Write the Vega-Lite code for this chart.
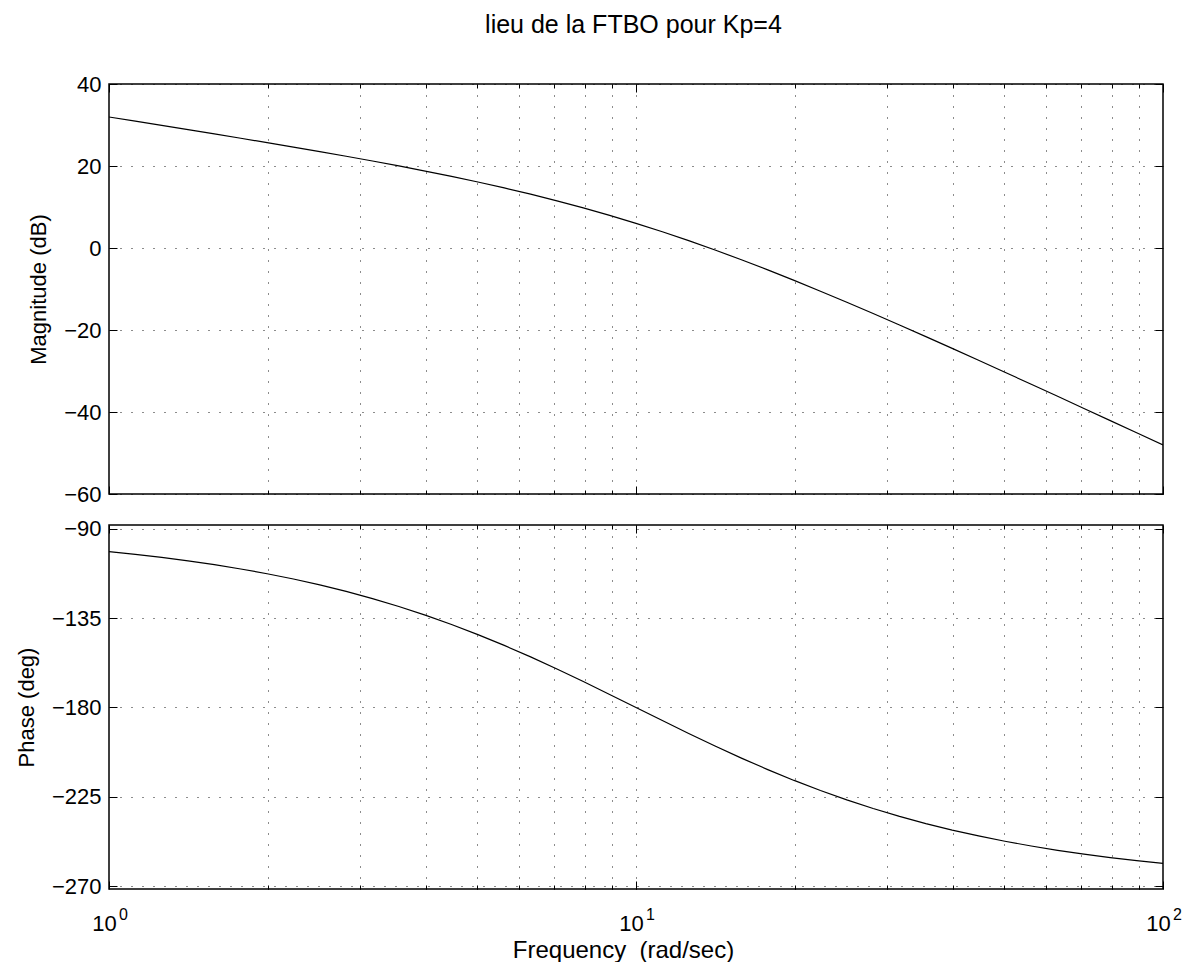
{
  "$schema": "https://vega.github.io/schema/vega-lite/v6.json",
  "background": "white",
  "padding": {"left": 14, "top": 13, "right": 5, "bottom": 5},
  "title": {"text": "lieu de la FTBO pour Kp=4", "font": "Liberation Sans", "fontSize": 25, "fontWeight": "normal", "color": "black", "offset": 34, "anchor": "middle", "dx": 35},
  "datasets": {
    "bode": [
      {"w": 1.0, "mag": 31.955, "phase": -101.42},
      {"w": 1.122, "mag": 30.933, "phase": -102.8},
      {"w": 1.2589, "mag": 29.905, "phase": -104.35},
      {"w": 1.4125, "mag": 28.87, "phase": -106.08},
      {"w": 1.5849, "mag": 27.826, "phase": -108.01},
      {"w": 1.7783, "mag": 26.771, "phase": -110.17},
      {"w": 1.9953, "mag": 25.702, "phase": -112.57},
      {"w": 2.2387, "mag": 24.616, "phase": -115.24},
      {"w": 2.5119, "mag": 23.51, "phase": -118.2},
      {"w": 2.8184, "mag": 22.377, "phase": -121.48},
      {"w": 3.1623, "mag": 21.213, "phase": -125.1},
      {"w": 3.5481, "mag": 20.011, "phase": -129.07},
      {"w": 3.9811, "mag": 18.763, "phase": -133.41},
      {"w": 4.4668, "mag": 17.461, "phase": -138.14},
      {"w": 5.0119, "mag": 16.095, "phase": -143.24},
      {"w": 5.6234, "mag": 14.655, "phase": -148.7},
      {"w": 6.3096, "mag": 13.131, "phase": -154.49},
      {"w": 7.0795, "mag": 11.512, "phase": -160.59},
      {"w": 7.9433, "mag": 9.792, "phase": -166.92},
      {"w": 8.9125, "mag": 7.963, "phase": -173.41},
      {"w": 10.0, "mag": 6.021, "phase": -180.0},
      {"w": 11.22, "mag": 3.963, "phase": -186.59},
      {"w": 12.589, "mag": 1.792, "phase": -193.08},
      {"w": 14.125, "mag": -0.488, "phase": -199.41},
      {"w": 15.849, "mag": -2.869, "phase": -205.51},
      {"w": 17.783, "mag": -5.346, "phase": -211.3},
      {"w": 19.953, "mag": -7.906, "phase": -216.77},
      {"w": 22.387, "mag": -10.539, "phase": -221.86},
      {"w": 25.119, "mag": -13.237, "phase": -226.59},
      {"w": 28.184, "mag": -15.989, "phase": -230.93},
      {"w": 31.623, "mag": -18.787, "phase": -234.9},
      {"w": 35.481, "mag": -21.623, "phase": -238.52},
      {"w": 39.811, "mag": -24.49, "phase": -241.8},
      {"w": 44.668, "mag": -27.384, "phase": -244.76},
      {"w": 50.119, "mag": -30.298, "phase": -247.43},
      {"w": 56.234, "mag": -33.23, "phase": -249.83},
      {"w": 63.096, "mag": -36.175, "phase": -251.99},
      {"w": 70.795, "mag": -39.131, "phase": -253.92},
      {"w": 79.433, "mag": -42.095, "phase": -255.65},
      {"w": 89.125, "mag": -45.067, "phase": -257.2},
      {"w": 100.0, "mag": -48.045, "phase": -258.58}
    ]
  },
  "config": {
    "font": "Liberation Sans",
    "view": {"stroke": "black", "strokeWidth": 1.5},
    "axis": {
      "domain": false, "tickColor": "black", "labelColor": "black", "titleColor": "black",
      "labelFont": "Liberation Sans", "titleFont": "Liberation Sans",
      "labelFontSize": 22, "titleFontSize": 22, "titleFontWeight": "normal",
      "gridColor": "black", "gridDash": [1, 10], "gridOpacity": 0.9, "gridWidth": 1,
      "labelFlush": false, "labelOverlap": false, "tickWidth": 1, "minExtent": 0
    }
  },
  "spacing": 11,
  "vconcat": [
    {
      "width": 1054, "height": 410,
      "data": {"name": "bode"},
      "layer": [
        {
          "mark": {"type": "line", "color": "black", "strokeWidth": 1.2, "clip": true},
          "encoding": {
            "x": {"field": "w", "type": "quantitative", "scale": {"type": "log", "domain": [1, 100], "nice": false},
                  "axis": {"orient": "bottom", "values": [1, 10, 100], "tickSize": -8, "labels": false, "grid": false, "title": null}},
            "y": {"field": "mag", "type": "quantitative", "scale": {"domain": [-60, 40], "nice": false, "zero": false},
                  "axis": {"orient": "left", "values": [-60, -40, -20, 0, 20, 40], "ticks": false, "labelPadding": 8, "grid": true, "title": "Magnitude (dB)", "titlePadding": 13}}
          }
        },
        {
          "mark": {"type": "line", "color": "black", "strokeOpacity": 0},
          "encoding": {
            "x": {"field": "w", "type": "quantitative", "scale": {"type": "log", "domain": [1, 100], "nice": false},
                  "axis": {"orient": "bottom", "values": [2, 3, 4, 5, 6, 7, 8, 9, 10, 20, 30, 40, 50, 60, 70, 80, 90], "tickSize": -4, "labels": false, "grid": true, "title": null}},
            "y": {"field": "mag", "type": "quantitative", "scale": {"domain": [-60, 40], "nice": false, "zero": false},
                  "axis": {"orient": "right", "values": [-60, -40, -20, 0, 20, 40], "tickSize": -8, "labels": false, "grid": false, "title": null}}
          }
        },
        {
          "mark": {"type": "line", "color": "black", "strokeOpacity": 0},
          "encoding": {
            "x": {"field": "w", "type": "quantitative", "scale": {"type": "log", "domain": [1, 100], "nice": false},
                  "axis": {"orient": "top", "values": [1, 10, 100], "tickSize": -8, "labels": false, "grid": false, "title": null}},
            "y": {"field": "mag", "type": "quantitative", "scale": {"domain": [-60, 40], "nice": false, "zero": false},
                  "axis": {"orient": "left", "values": [-60, -40, -20, 0, 20, 40], "tickSize": -8, "labels": false, "grid": false, "title": null}}
          }
        },
        {
          "mark": {"type": "line", "color": "black", "strokeOpacity": 0},
          "encoding": {
            "x": {"field": "w", "type": "quantitative", "scale": {"type": "log", "domain": [1, 100], "nice": false},
                  "axis": {"orient": "top", "values": [2, 3, 4, 5, 6, 7, 8, 9, 20, 30, 40, 50, 60, 70, 80, 90], "tickSize": -4, "labels": false, "grid": false, "title": null}},
            "y": {"field": "mag", "type": "quantitative", "scale": {"domain": [-60, 40], "nice": false, "zero": false}, "axis": null}
          }
        }
      ],
      "resolve": {"axis": {"x": "independent", "y": "independent"}}
    },
    {
      "width": 1054, "height": 364,
      "data": {"name": "bode"},
      "layer": [
        {
          "mark": {"type": "line", "color": "black", "strokeWidth": 1.2, "clip": true},
          "encoding": {
            "x": {"field": "w", "type": "quantitative", "scale": {"type": "log", "domain": [1, 100], "nice": false},
                  "axis": {"orient": "bottom", "values": [1, 10, 100], "tickSize": -8, "labels": false, "grid": false, "title": null}},
            "y": {"field": "phase", "type": "quantitative", "scale": {"domain": [-271.5, -88], "nice": false, "zero": false},
                  "axis": {"orient": "left", "values": [-270, -225, -180, -135, -90], "ticks": false, "labelPadding": 8, "grid": true, "title": "Phase (deg)", "titlePadding": 13}}
          }
        },
        {
          "mark": {"type": "line", "color": "black", "strokeOpacity": 0},
          "encoding": {
            "x": {"field": "w", "type": "quantitative", "scale": {"type": "log", "domain": [1, 100], "nice": false},
                  "axis": {"orient": "bottom", "values": [2, 3, 4, 5, 6, 7, 8, 9, 10, 20, 30, 40, 50, 60, 70, 80, 90], "tickSize": -4, "labels": false, "grid": true, "title": null}},
            "y": {"field": "phase", "type": "quantitative", "scale": {"domain": [-271.5, -88], "nice": false, "zero": false},
                  "axis": {"orient": "right", "values": [-270, -225, -180, -135, -90], "tickSize": -8, "labels": false, "grid": false, "title": null}}
          }
        },
        {
          "mark": {"type": "line", "color": "black", "strokeOpacity": 0},
          "encoding": {
            "x": {"field": "w", "type": "quantitative", "scale": {"type": "log", "domain": [1, 100], "nice": false},
                  "axis": {"orient": "top", "values": [1, 10, 100], "tickSize": -8, "labels": false, "grid": false, "title": null}},
            "y": {"field": "phase", "type": "quantitative", "scale": {"domain": [-271.5, -88], "nice": false, "zero": false},
                  "axis": {"orient": "left", "values": [-270, -225, -180, -135, -90], "tickSize": -8, "labels": false, "grid": false, "title": null}}
          }
        },
        {
          "mark": {"type": "line", "color": "black", "strokeOpacity": 0},
          "encoding": {
            "x": {"field": "w", "type": "quantitative", "scale": {"type": "log", "domain": [1, 100], "nice": false},
                  "axis": {"orient": "top", "values": [2, 3, 4, 5, 6, 7, 8, 9, 20, 30, 40, 50, 60, 70, 80, 90], "tickSize": -4, "labels": false, "grid": false, "title": null}},
            "y": {"field": "phase", "type": "quantitative", "scale": {"domain": [-271.5, -88], "nice": false, "zero": false}, "axis": null}
          }
        },
        {
          "mark": {"type": "line", "color": "black", "strokeOpacity": 0},
          "encoding": {
            "x": {"field": "w", "type": "quantitative", "scale": {"type": "log", "domain": [1, 100], "nice": false},
                  "axis": {"orient": "bottom", "values": [1, 10, 100], "ticks": false, "grid": false, "labelExpr": "'10'", "labelPadding": 24, "labelOffset": -5, "title": "Frequency\u00a0 (rad/sec)", "titleFontSize": 24, "titlePadding": 4, "titleX": 514, "titleAlign": "center"}},
            "y": {"field": "phase", "type": "quantitative", "scale": {"domain": [-271.5, -88], "nice": false, "zero": false}, "axis": null}
          }
        },
        {
          "mark": {"type": "line", "color": "black", "strokeOpacity": 0},
          "encoding": {
            "x": {"field": "w", "type": "quantitative", "scale": {"type": "log", "domain": [1, 100], "nice": false},
                  "axis": {"orient": "bottom", "values": [1, 10, 100], "ticks": false, "grid": false, "labelExpr": "datum.value == 1 ? '0' : (datum.value == 10 ? '1' : '2')", "labelFontSize": 16, "labelPadding": 17, "labelOffset": 14, "title": null}},
            "y": {"field": "phase", "type": "quantitative", "scale": {"domain": [-271.5, -88], "nice": false, "zero": false}, "axis": null}
          }
        }
      ],
      "resolve": {"axis": {"x": "independent", "y": "independent"}}
    }
  ]
}
